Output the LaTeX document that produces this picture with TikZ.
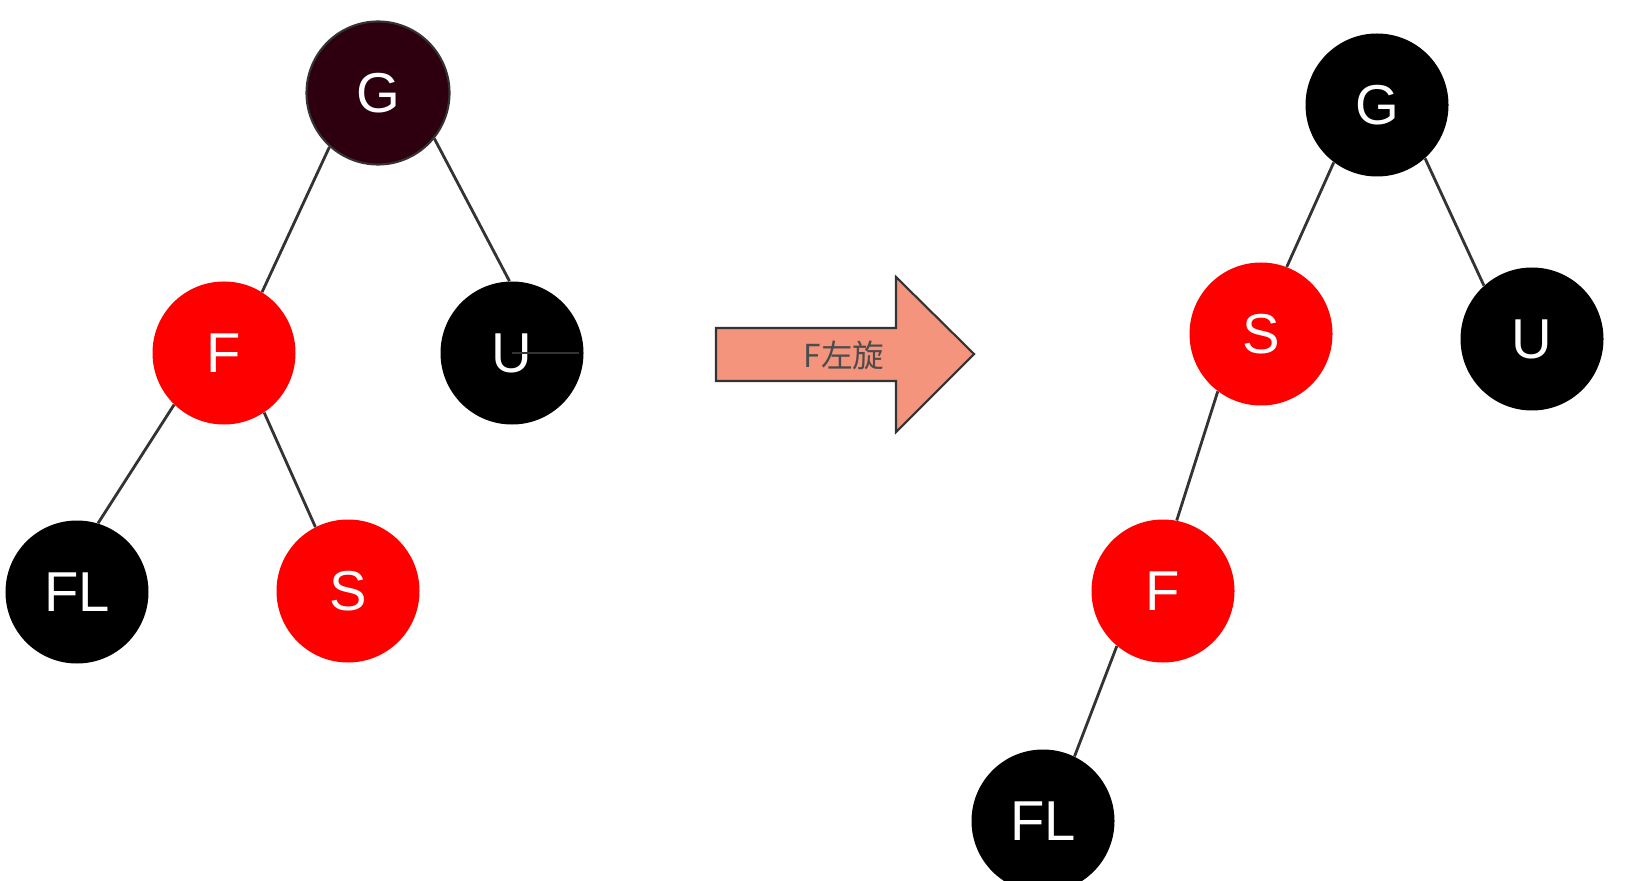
\documentclass[tikz,border=0pt]{standalone}
\usepackage{fontspec}
\setmainfont{Liberation Sans}
\newfontfamily\cjk{Noto Sans CJK SC}
\usepackage{tikz}
\definecolor{redn}{rgb}{1,0,0}
\definecolor{darkg}{rgb}{0.18,0,0.06}
\definecolor{edgec}{rgb}{0.2,0.2,0.2}
\definecolor{arrowc}{rgb}{0.96,0.58,0.49}
\definecolor{textc}{rgb}{0.3,0.3,0.3}

\begin{document}
\begin{tikzpicture}[
  rb/.style={circle, minimum size=2.86cm, inner sep=0pt, text=white,
    font=\fontsize{32}{36}\selectfont},
  blk/.style={rb, fill=black},
  rd/.style={rb, fill=redn},
  edge/.style={draw=edgec, line width=1.6pt}]
\useasboundingbox (0,0) rectangle (33,17.6);

% before
\node[rb, fill=darkg, draw=edgec, line width=1.2pt] (G1) at (7.56,15.74) {G};
\node[rd] (F1) at (4.48,10.54) {F};
\node[blk] (U1) at (10.24,10.54) {U};
\node[blk] (FL1) at (1.54,5.76) {FL};
\node[rd] (S1) at (6.96,5.78) {S};
\draw[edge] (G1.228) -- (F1.58);
\draw[edge] (G1.321) -- (U1.92);
\draw[edge] (F1.226) -- (FL1.73);
\draw[edge] (F1.304) -- (S1.117);
\draw[edge] (U1.center) -- ([xshift=-0.1cm]U1.east);

% arrow
\draw[fill=arrowc, draw=edgec, line width=1.2pt] (14.32,11.04) -- (17.92,11.04) -- (17.92,12.06)
  -- (19.48,10.52) -- (17.92,8.96) -- (17.92,9.98) -- (14.32,9.98) -- cycle;
\node[text=textc, font=\cjk\fontsize{18}{20}\selectfont] (rot) at (16.88,10.50) {F左旋};

% after
\node[blk] (G2) at (27.54,15.50) {G};
\node[rd] (S2) at (25.22,10.92) {S};
\node[blk] (U2) at (30.64,10.82) {U};
\node[rd] (F2) at (23.26,5.78) {F};
\node[blk] (FL2) at (20.86,1.18) {FL};
\draw[edge] (G2.233) -- (S2.69);
\draw[edge] (G2.312) -- (U2.132);
\draw[edge] (S2.233) -- (F2.79);
\draw[edge] (F2.230) -- (FL2.64);
\end{tikzpicture}
\end{document}
